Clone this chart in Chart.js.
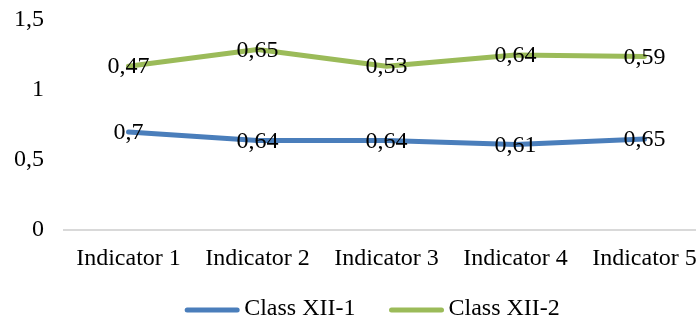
<!DOCTYPE html>
<html>
<head>
<meta charset="utf-8">
<script src="https://cdn.jsdelivr.net/npm/chart.js@4/dist/chart.umd.min.js"></script>
<style>
  html, body { margin: 0; padding: 0; background: #fff; overflow: hidden; }
  #wrap { width: 712px; height: 320px; }
</style>
</head>
<body>
<div id="wrap"><canvas id="c" width="712" height="320"></canvas></div>
<script>
const categories = ['Indicator 1', 'Indicator 2', 'Indicator 3', 'Indicator 4', 'Indicator 5'];
const classXII1 = [0.7, 0.64, 0.64, 0.61, 0.65];
const classXII2 = [0.47, 0.65, 0.53, 0.64, 0.59];
const yTicks = [0, 0.5, 1, 1.5];

const FONT = '"Liberation Serif", "Times New Roman", serif';
const SIZE = 24;
const comma = v => String(v).replace('.', ',');

// value labels centred on each point
const valueLabels = {
  id: 'valueLabels',
  afterDatasetsDraw(chart) {
    const ctx = chart.ctx;
    ctx.save();
    ctx.font = SIZE + 'px ' + FONT;
    ctx.fillStyle = '#000';
    ctx.textAlign = 'center';
    ctx.textBaseline = 'middle';
    chart.data.datasets.forEach((ds, i) => {
      chart.getDatasetMeta(i).data.forEach((pt, j) => {
        ctx.fillText(comma(ds.data[j]), pt.x, pt.y + 1);
      });
    });
    ctx.restore();
  }
};

// bottom legend with rounded line swatches
const lineLegend = {
  id: 'lineLegend',
  afterDraw(chart) {
    const ctx = chart.ctx;
    ctx.save();
    ctx.font = SIZE + 'px ' + FONT;
    const sw = 56, gap = 4, between = 33;
    const items = chart.data.datasets.map(ds => ({ label: ds.label, color: ds.borderColor, w: ctx.measureText(ds.label).width }));
    const total = items.reduce((s, it) => s + sw + gap + it.w, 0) + between * (items.length - 1);
    let x = 372 - total / 2;
    const y = 309;
    items.forEach(it => {
      ctx.strokeStyle = it.color;
      ctx.lineWidth = 5;
      ctx.lineCap = 'round';
      ctx.beginPath();
      ctx.moveTo(x + 3, y + 1);
      ctx.lineTo(x + sw - 3, y + 1);
      ctx.stroke();
      ctx.fillStyle = '#000';
      ctx.textAlign = 'left';
      ctx.textBaseline = 'middle';
      ctx.fillText(it.label, x + sw + gap, y);
      x += sw + gap + it.w + between;
    });
    ctx.restore();
  }
};

new Chart(document.getElementById('c'), {
  type: 'line',
  data: {
    labels: categories,
    datasets: [
      { label: 'Class XII-1', data: classXII1, borderColor: '#4a7ebb', backgroundColor: '#4a7ebb',
        borderWidth: 5, pointRadius: 0, tension: 0, borderCapStyle: 'round', borderJoinStyle: 'round' },
      { label: 'Class XII-2', data: classXII2, borderColor: '#9bbb59', backgroundColor: '#9bbb59',
        borderWidth: 5, pointRadius: 0, tension: 0, borderCapStyle: 'round', borderJoinStyle: 'round' }
    ]
  },
  options: {
    responsive: false,
    animation: false,
    layout: { padding: { top: 20, bottom: 40, left: 0, right: 3 } },
    plugins: { legend: { display: false }, tooltip: { enabled: false } },
    scales: {
      x: {
        offset: true,
        grid: { display: false, drawTicks: false },
        border: { display: true, color: '#d9d9d9', width: 2 },
        ticks: { color: '#000', font: { family: FONT, size: SIZE }, padding: 14, maxRotation: 0, autoSkip: false },
        afterFit: s => { s.height = 50; }
      },
      y: {
        stacked: true,
        min: 0, max: 1.5,
        grid: { display: false, drawTicks: false },
        border: { display: false },
        afterBuildTicks: s => { s.ticks = yTicks.map(v => ({ value: v })); },
        ticks: { color: '#000', font: { family: FONT, size: SIZE }, padding: 20, callback: v => comma(v) },
        afterFit: s => { s.width = 64; s.paddingTop = 0; s.paddingBottom = 0; }
      }
    }
  },
  plugins: [valueLabels, lineLegend]
});
</script>
</body>
</html>
